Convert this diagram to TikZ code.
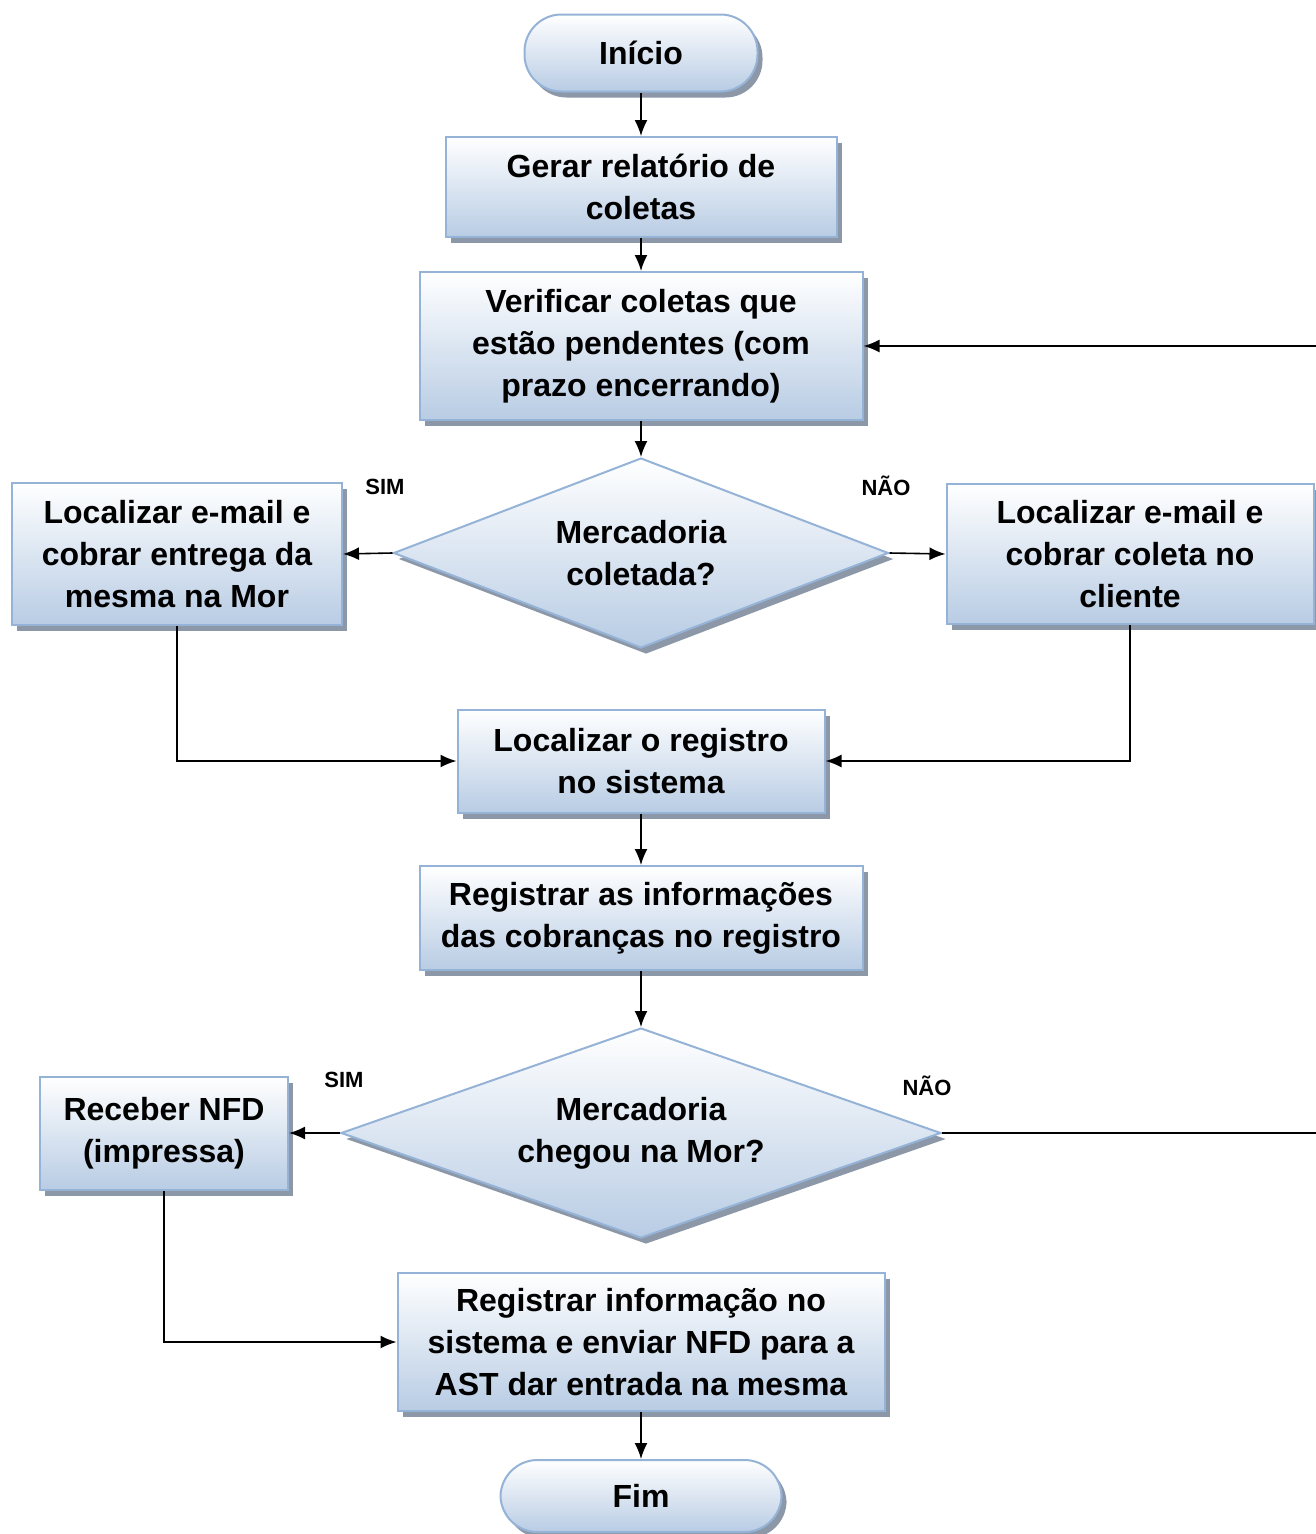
\documentclass[tikz,border=0pt]{standalone}
\usepackage{fontspec}
\setmainfont{Liberation Sans}
\usetikzlibrary{shapes.geometric,arrows.meta,shadows}
\definecolor{boxedge}{RGB}{149,179,215}
\definecolor{boxbot}{RGB}{184,204,228}
\definecolor{shadowgray}{RGB}{140,152,168}
\tikzset{
  base/.style={draw=boxedge, line width=2pt, top color=white, bottom color=boxbot,
    inner sep=0pt, align=center, font=\fontsize{32}{42}\selectfont\bfseries,
    general shadow={fill=shadowgray, shadow xshift=5pt, shadow yshift=-6pt}},
  procbox/.style={base, rectangle},
  termbox/.style={base, rectangle, rounded corners=37pt},
  decbox/.style={base, diamond},
  conn/.style={line width=1.6pt, -{Latex[length=16pt,width=13pt]}},
  lbl/.style={font=\fontsize{22}{24}\selectfont\bfseries, inner sep=0pt}
}
\begin{document}
\begin{tikzpicture}[x=1pt,y=-1pt]
\useasboundingbox (0,0) rectangle (1316,1534);
\fill[white] (0,0) rectangle (1316,1534);

\node[termbox, minimum width=233pt, minimum height=77pt] (ini) at (641,53) {Início};
\node[procbox, minimum width=391pt, minimum height=100pt] (gerar) at (641,187) {Gerar relatório de\\coletas};
\node[procbox, minimum width=443pt, minimum height=148pt] (verif) at (641,346) {Verificar coletas que\\estão pendentes (com\\prazo encerrando)};
\node[decbox, shape aspect=2.6, minimum width=495pt, minimum height=190pt] (dec1) at (641,553) {Mercadoria\\coletada?};
\node[procbox, minimum width=330pt, minimum height=142pt] (left1) at (177,554) {Localizar e-mail e\\cobrar entrega da\\mesma na Mor};
\node[procbox, minimum width=367pt, minimum height=140pt] (right1) at (1130,554) {Localizar e-mail e\\cobrar coleta no\\cliente};
\node[procbox, minimum width=367pt, minimum height=103pt] (loc) at (641,761) {Localizar o registro\\no sistema};
\node[procbox, minimum width=443pt, minimum height=104pt] (reg1) at (641,918) {Registrar as informações\\das cobranças no registro};
\node[decbox, shape aspect=2.86, minimum width=600pt, minimum height=210pt] (dec2) at (641,1133) {Mercadoria\\chegou na Mor?};
\node[procbox, minimum width=248pt, minimum height=113pt] (rec) at (164,1133) {Receber NFD\\(impressa)};
\node[procbox, minimum width=487pt, minimum height=138pt] (reg2) at (641,1342) {Registrar informação no\\sistema e enviar NFD para a\\AST dar entrada na mesma};
\node[termbox, minimum width=281pt, minimum height=72pt] (fim) at (641,1496) {Fim};

\node[lbl] (sim1) at (385,487) {SIM};
\node[lbl] (nao1) at (886,486) {NÃO};
\node[lbl] (sim2) at (344,1080) {SIM};
\node[lbl] (nao2) at (927,1086) {NÃO};

\coordinate (loopR) at (1345,1133);

\draw[conn] (ini) -- (gerar);
\draw[conn] (gerar) -- (verif);
\draw[conn] (verif) -- (dec1);
\draw[conn] (dec1.west) -- (left1.east);
\draw[conn] (dec1.east) -- (right1.west);
\draw[conn] (left1.south) |- (loc.west);
\draw[conn] (right1.south) |- (loc.east);
\draw[conn] (loc) -- (reg1);
\draw[conn] (reg1) -- (dec2);
\draw[conn] (dec2.west) -- (rec.east);
\draw[conn] (dec2.east) -- (loopR) |- (verif.east);
\draw[conn] (rec.south) |- (reg2.west);
\draw[conn] (reg2) -- (fim);
\end{tikzpicture}
\end{document}
